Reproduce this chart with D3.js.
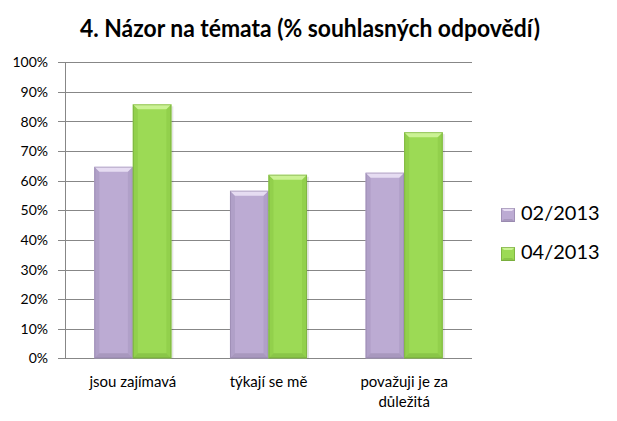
<!DOCTYPE html>
<html><head><meta charset="utf-8">
<script src="https://cdn.jsdelivr.net/npm/d3@7"></script>
<style>body{margin:0;background:#fff}svg{display:block}</style>
</head><body>
<script>
const categories = [["jsou zajímavá"], ["týkají se mě"], ["považuji je za", "důležitá"]];
const seriesNames = ["02/2013", "04/2013"];
const values0213 = [0.647, 0.566, 0.627];
const values0413 = [0.858, 0.620, 0.764];
const tickValues = [0,0.1,0.2,0.3,0.4,0.5,0.6,0.7,0.8,0.9,1.0];
const titleText = "4. Názor na témata (% souhlasných odpovědí)";

const W = 617, H = 421;
const svg = d3.select("body").append("svg").attr("width", W).attr("height", H);
const font = "Lato, 'Open Sans', sans-serif";
const m = {left:65, right:472, top:62.3, bottom:358.3};

const y = d3.scaleLinear().domain([0,1]).range([m.bottom, m.top]);
const x0 = d3.scaleBand().domain(d3.range(categories.length)).range([m.left, m.right]).paddingInner(0.432).paddingOuter(0.216);
const x1 = d3.scaleBand().domain([0,1]).range([0, x0.bandwidth()]);

const styles = [
  {base:"#BCABD3", top:"#E6DCF2", bot:"#A898BE", side:"#B0A0C8", edge:"#8F80A5"},
  {base:"#9CDA55", top:"#CBF294", bot:"#8AC648", side:"#92D04C", edge:"#6E9E37"}
];

// gridlines
svg.append("g").selectAll("line").data(tickValues).join("line")
  .attr("x1", m.left-7).attr("x2", m.right)
  .attr("y1", d=>Math.round(y(d))+0.5).attr("y2", d=>Math.round(y(d))+0.5)
  .attr("stroke", "#878787").attr("stroke-width", 1);
// y axis line
svg.append("line").attr("x1", m.left+0.5).attr("x2", m.left+0.5)
  .attr("y1", Math.round(y(1))).attr("y2", Math.round(y(0))+1)
  .attr("stroke", "#878787");
// tick labels
svg.append("g").selectAll("text").data(tickValues).join("text")
  .attr("x", 48).attr("y", d=>y(d)+5).attr("text-anchor","end")
  .attr("font-family", font).attr("font-size", 14).attr("fill","#000")
  .text(d=>d3.format(".0%")(d));

// bars
const series = [values0213, values0413];
const bev = 5;
series.forEach((vals, si) => {
  const st = styles[si];
  const g = svg.append("g");
  vals.forEach((v, ci) => {
    const xl = x0(ci) + x1(si), w = x1.bandwidth(), xr = xl + w;
    const yt = y(v), yb = y(0);
    const bg = g.append("g");
    bg.append("rect").attr("x", xr).attr("y", yt+2).attr("width", 2).attr("height", yb-yt-2).attr("fill","#000").attr("opacity",0.1);
    bg.append("rect").attr("x", xl).attr("y", yt).attr("width", w).attr("height", yb-yt).attr("fill", st.base);
    bg.append("polygon").attr("points", [[xl,yt],[xl+bev,yt+bev],[xl+bev,yb-bev],[xl,yb]].join(" ")).attr("fill", st.side);
    bg.append("polygon").attr("points", [[xr,yt],[xr-bev,yt+bev],[xr-bev,yb-bev],[xr,yb]].join(" ")).attr("fill", st.side);
    bg.append("polygon").attr("points", [[xl,yb],[xl+bev,yb-bev],[xr-bev,yb-bev],[xr,yb]].join(" ")).attr("fill", st.bot);
    bg.append("polygon").attr("points", [[xl,yt],[xr,yt],[xr-bev,yt+bev],[xl+bev,yt+bev]].join(" ")).attr("fill", st.top);
    bg.append("rect").attr("x", xl+0.5).attr("y", yt+0.5).attr("width", w-1).attr("height", yb-yt-1).attr("fill","none").attr("stroke", st.edge).attr("stroke-width",1).attr("opacity",0.5);
  });
});

// category labels
const cl = svg.append("g");
categories.forEach((lines, ci) => {
  const t = cl.append("text").attr("text-anchor","middle").attr("font-family", font).attr("font-size", 15).attr("fill","#000");
  lines.forEach((ln, li) => {
    t.append("tspan").attr("x", x0(ci) + x0.bandwidth()/2).attr("y", 386.5 + li*20).text(ln);
  });
});

// title
svg.append("text").attr("x", 310).attr("y", 36.5).attr("text-anchor","middle")
  .attr("font-family", font).attr("font-weight","bold").attr("font-size", 24)
  .attr("textLength", 460).attr("lengthAdjust","spacingAndGlyphs")
  .attr("fill","#000").text(titleText);

// legend
const lg = svg.append("g");
seriesNames.forEach((name, i) => {
  const st = styles[i];
  const yy = 208 + i*39;
  const s = 14, b = 3;
  lg.append("rect").attr("x", 501).attr("y", yy).attr("width", s).attr("height", s).attr("fill", st.base);
  lg.append("polygon").attr("points", [[501,yy],[501+s,yy],[501+s-b,yy+b],[501+b,yy+b]].join(" ")).attr("fill", st.top);
  lg.append("polygon").attr("points", [[501,yy+s],[501+b,yy+s-b],[501+s-b,yy+s-b],[501+s,yy+s]].join(" ")).attr("fill", st.bot);
  lg.append("rect").attr("x", 501.5).attr("y", yy+0.5).attr("width", s-1).attr("height", s-1).attr("fill","none").attr("stroke", st.edge).attr("opacity",0.6);
  lg.append("text").attr("x", 521).attr("y", yy+11.5).attr("font-family", font).attr("font-size", 20).attr("fill","#000").text(name);
});
</script>
</body></html>
